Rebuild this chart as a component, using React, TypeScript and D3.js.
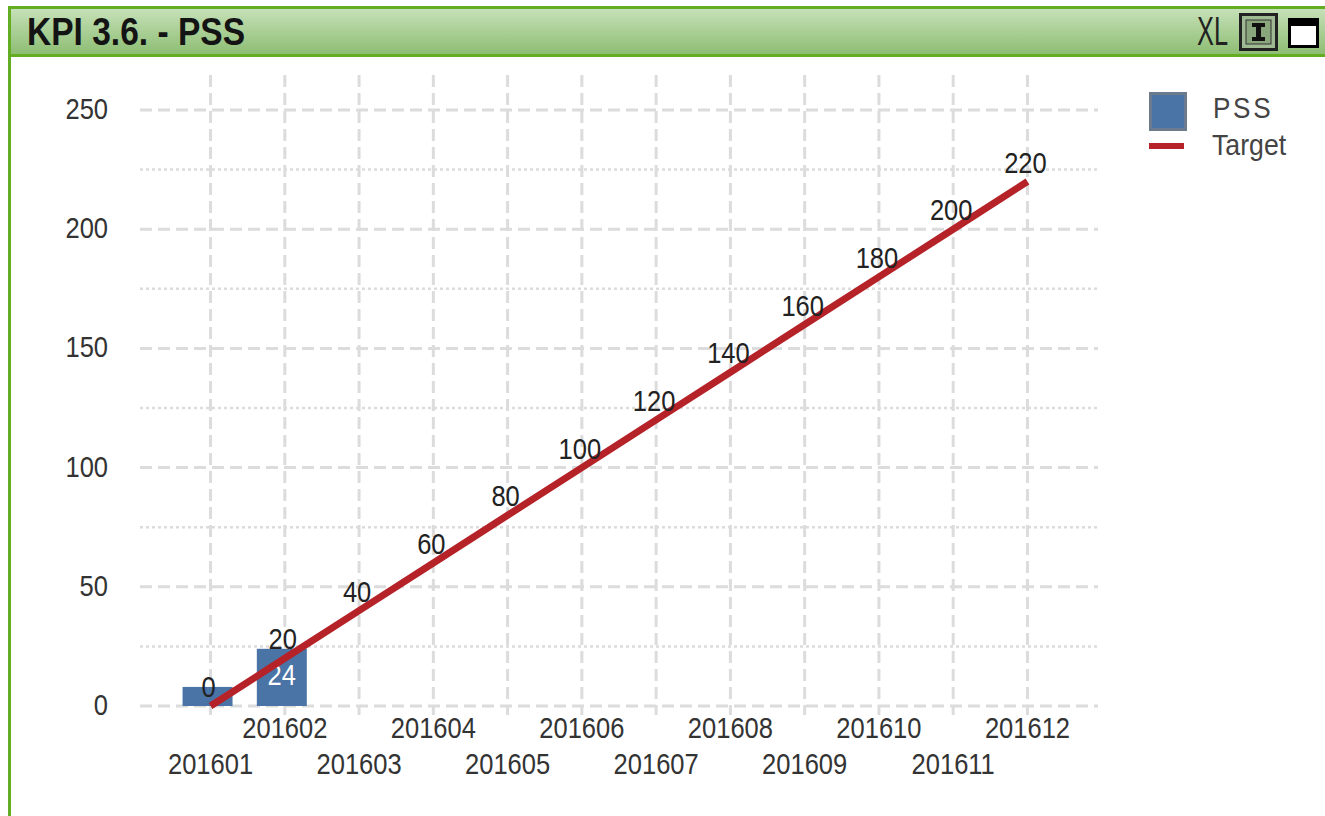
import React from 'react';
import * as d3 from 'd3';

const months = ['201601', '201602', '201603', '201604', '201605', '201606', '201607', '201608', '201609', '201610', '201611', '201612'];
const pss = [8, 24, null, null, null, null, null, null, null, null, null, null];
const target = [0, 20, 40, 60, 80, 100, 120, 140, 160, 180, 200, 220];
const yTicks = [0, 50, 100, 150, 200, 250];
const yMinor = [25, 75, 125, 175, 225];

const FONT = "'Liberation Sans', Arial, sans-serif";
const BAR = '#4a73a6';
const RED = '#b52228';
const GRID = '#dcdcdc';

// condensed text: Liberation Sans squeezed horizontally
const T = ({ x, y, anchor = 'start', sx = 0.88, size = 29, fill = '#333', weight = 'normal', spacing = 0, children }: any) => (
  <g transform={`translate(${x},${y}) scale(${sx},1)`}>
    <text textAnchor={anchor} fontFamily={FONT} fontSize={size} fill={fill} fontWeight={weight} letterSpacing={spacing}>
      {children}
    </text>
  </g>
);

const App = () => {
  const width = 1325;
  const height = 816;
  const plot = { left: 140, right: 1098, top: 110, bottom: 706 };

  const x = d3.scaleBand<string>().domain(months).range([plot.left, plot.right]).paddingInner(0).paddingOuter(0.45);
  const y = d3.scaleLinear().domain([0, 250]).range([plot.bottom, plot.top]);
  const cx = (m: string) => (x(m) as number) + x.bandwidth() / 2;
  const barW = x.bandwidth() * 0.673;

  const line = d3
    .line<number>()
    .x((_, i) => cx(months[i]))
    .y(d => y(d));

  return (
    <div style={{ position: 'absolute', left: 0, top: 0 }}>
      <svg width={width} height={height} style={{ display: 'block', background: '#fff' }}>
        <defs>
          <linearGradient id="caption" x1="0" y1="0" x2="0" y2="1">
            <stop offset="0" stopColor="#c7e1b9" />
            <stop offset="1" stopColor="#8cbd72" />
          </linearGradient>
        </defs>

        {/* frame + caption */}
        <rect x={9} y={8} width={width - 9} height={47} fill="url(#caption)" />
        <line x1={8} x2={width} y1={7.5} y2={7.5} stroke="#62ad22" strokeWidth={3} />
        <line x1={8} x2={width} y1={55.5} y2={55.5} stroke="#62ad22" strokeWidth={3} />
        <line x1={9.5} x2={9.5} y1={7} y2={height} stroke="#62ad22" strokeWidth={3} />
        <T x={27} y={45} size={39} sx={0.86} weight="bold" fill="#141414">
          KPI 3.6. - PSS
        </T>
        <text x={1197} y={45} fontFamily={FONT} fontSize={41} fill="#222" textLength={31} lengthAdjust="spacingAndGlyphs">
          XL
        </text>
        <rect x={1240.5} y={14.5} width={36} height={35} fill="#9fba92" stroke="#222" strokeWidth={3} />
        <rect x={1246} y={20} width={25} height={24} fill="#8aa67c" stroke="#333" strokeWidth={1} />
        <path d="M1252,23 h13 v4 h-4 v10 h4 v4 h-13 v-4 h4 v-10 h-4 z" fill="#111" />
        <rect x={1289.5} y={19.5} width={28} height={27} fill="#fff" stroke="#000" strokeWidth={3} />
        <rect x={1289} y={19} width={29} height={7} fill="#000" />

        {/* grid */}
        {months.map(m => (
          <line key={m} x1={cx(m)} x2={cx(m)} y1={75} y2={715} stroke={GRID} strokeWidth={3} strokeDasharray="12,6" />
        ))}
        {yMinor.map(v => (
          <line key={v} x1={plot.left} x2={plot.right} y1={y(v)} y2={y(v)} stroke={GRID} strokeWidth={2.5} strokeDasharray="3,3" />
        ))}
        {yTicks.map(v => (
          <line key={v} x1={plot.left} x2={plot.right} y1={y(v)} y2={y(v)} stroke={GRID} strokeWidth={3} strokeDasharray="12,6" />
        ))}

        {/* y labels */}
        {yTicks.map(v => (
          <T key={v} x={108} y={y(v) + 9} anchor="end">
            {v}
          </T>
        ))}

        {/* x labels */}
        {months.map((m, i) => (
          <T key={m} x={cx(m)} y={i % 2 === 0 ? 774 : 738} anchor="middle">
            {m}
          </T>
        ))}

        {/* bars */}
        {months.map((m, i) =>
          pss[i] == null ? null : (
            <g key={m}>
              <rect x={cx(m) - barW / 2 - 3} y={y(pss[i] as number)} width={barW} height={plot.bottom - y(pss[i] as number)} fill={BAR} />
              {plot.bottom - y(pss[i] as number) > 40 && (
                <T x={cx(m) - 3} y={y(pss[i] as number) + 36} anchor="middle" fill="#fff">
                  {pss[i]}
                </T>
              )}
            </g>
          )
        )}

        {/* target line */}
        <path d={line(target) as string} fill="none" stroke={RED} strokeWidth={7} />
        {months.map((m, i) => (
          <T key={m} x={cx(m) - 2} y={y(target[i]) - 9} anchor="middle" fill="#222">
            {target[i]}
          </T>
        ))}

        {/* legend */}
        <rect x={1150.5} y={93.5} width={35} height={36} fill={BAR} stroke="#6b7a8c" strokeWidth={3} />
        <T x={1213} y={118} fill="#444" spacing={3} sx={0.9}>
          PSS
        </T>
        <line x1={1149} x2={1184} y1={146} y2={146} stroke={RED} strokeWidth={6} />
        <T x={1212} y={155} fill="#444" sx={0.92}>
          Target
        </T>
      </svg>
    </div>
  );
};

export default App;
